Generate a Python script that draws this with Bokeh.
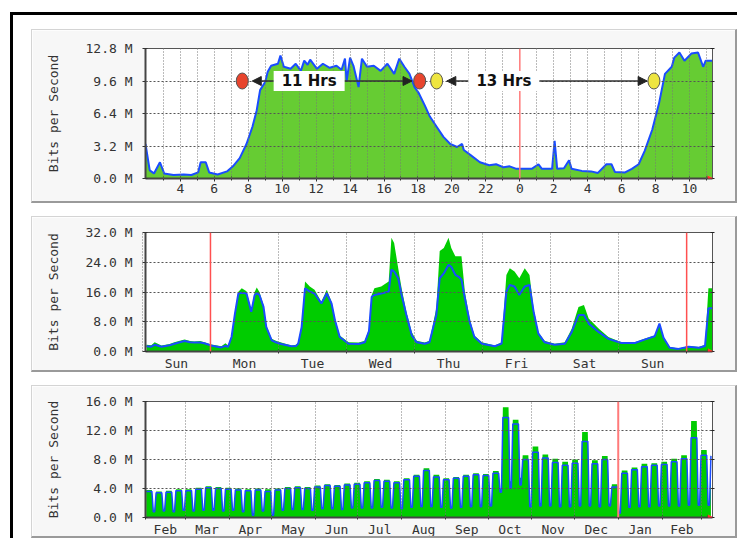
from bokeh.plotting import figure
from bokeh.layouts import column
from bokeh.models import FixedTicker, LinearAxis, Range1d, Span, Label, Arrow, NormalHead
from bokeh.embed import file_html
from bokeh.resources import INLINE

# ---------------- Daily graph (hours; 24 = midnight) ----------------
day_hours = [1.95, 2.2, 2.45, 2.8, 3.05, 3.6, 4.2, 4.65, 5.05, 5.2, 5.5, 5.7, 6.2, 6.75,
             7.1, 7.5, 7.9, 8.25, 8.5, 8.7, 9.0, 9.15, 9.35, 9.75, 9.9, 10.1, 10.5, 10.8,
             11.1, 11.3, 11.5, 11.65, 12.05, 12.4, 12.8, 13.2, 13.5, 13.7, 13.8, 14.0,
             14.2, 14.5, 14.7, 15.0, 15.4, 15.8, 16.2, 16.6, 16.9, 17.2, 17.5, 17.8,
             18.05, 18.4, 18.7, 19.1, 19.5, 19.9, 20.3, 20.6, 20.7, 21.1, 21.65, 22.2,
             22.6, 23.05, 23.4, 23.8, 24.4, 24.7, 25.1, 25.3, 25.9, 26.05, 26.2, 26.6,
             26.9, 27.05, 27.65, 28.2, 28.6, 29.1, 29.4, 29.6, 30.2, 30.6, 31.0, 31.35,
             31.8, 32.2, 32.55, 32.95, 33.1, 33.4, 33.7, 34.1, 34.5, 34.8, 34.95, 35.35]
day_in = [3.4, 0.8, 0.5, 1.6, 0.5, 0.35, 0.4, 0.35, 0.6, 1.6, 1.6, 0.6, 0.4, 0.7,
          1.2, 2.0, 3.4, 5.1, 6.7, 8.7, 9.5, 10.5, 11.1, 11.3, 12.1, 11.0, 10.8, 11.3,
          10.6, 11.6, 11.2, 11.7, 10.8, 11.3, 10.9, 11.1, 10.7, 11.8, 9.6, 11.9,
          11.1, 9.0, 11.8, 11.0, 11.1, 10.6, 11.3, 10.3, 11.8, 11.0, 10.3, 9.0,
          8.4, 7.2, 6.1, 5.1, 4.1, 3.4, 3.1, 3.4, 2.8, 2.3, 1.6, 1.3,
          1.4, 1.1, 1.2, 0.95, 0.95, 0.95, 1.4, 0.95, 0.95, 3.7, 0.95, 1.0,
          1.8, 0.95, 0.75, 0.7, 0.55, 1.4, 1.4, 0.65, 0.6, 0.95, 1.4, 2.7,
          4.8, 7.4, 10.3, 11.0, 11.9, 12.4, 11.6, 12.3, 12.4, 11.0, 11.6, 11.6]
day_out = day_in
day_range = (1.95, 35.35)
day_ticks = [4, 6, 8, 10, 12, 14, 16, 18, 20, 22, 24, 26, 28, 30, 32, 34]
day_tick_labels = ["4", "6", "8", "10", "12", "14", "16", "18", "20", "22",
                   "0", "2", "4", "6", "8", "10"]
day_hour_lines = [3, 4, 5, 6, 7, 8, 9, 10, 11, 12, 13, 14, 15, 16, 17, 18, 19, 20, 21,
                  22, 23, 25, 26, 27, 28, 29, 30, 31, 32, 33, 34, 35]
day_y_ticks = [0, 3.2, 6.4, 9.6, 12.8]
day_y_labels = ["0.0 M", "3.2 M", "6.4 M", "9.6 M", "12.8 M"]
day_midnight = 24
# annotation: markers, labels, arrows (hours, M)
marker_hours = [7.65, 18.1, 19.1, 31.9]
marker_level = [9.6, 9.6, 9.6, 9.6]
marker_colors = ["#e8452e", "#e8452e", "#eee540", "#eee540"]
span_labels = ["11 Hrs", "13 Hrs"]
span_label_hours = [11.59, 23.06]
span_arrows = [(9.53, 8.24), (13.65, 17.65), (21.0, 19.7), (25.1, 31.5)]

# ---------------- Weekly graph (days; 0 = Monday 00:00) ----------------
week_days = [-0.94, -0.87, -0.82, -0.72, -0.6, -0.53, -0.45, -0.38, -0.3, -0.24, -0.15,
             -0.09, 0.01, 0.1, 0.16, 0.22, 0.26, 0.31, 0.36, 0.41, 0.46, 0.53, 0.6,
             0.65, 0.68, 0.72, 0.78, 0.82, 0.9, 0.97, 1.04, 1.19, 1.26, 1.29, 1.34,
             1.39, 1.46, 1.53, 1.63, 1.71, 1.78, 1.83, 1.9, 2.03, 2.18, 2.27, 2.33,
             2.37, 2.41, 2.51, 2.62, 2.66, 2.7, 2.76, 2.81, 2.88, 2.96, 3.03, 3.15,
             3.22, 3.32, 3.37, 3.43, 3.5, 3.54, 3.6, 3.65, 3.69, 3.74, 3.81, 3.88,
             3.99, 4.18, 4.28, 4.35, 4.4, 4.47, 4.54, 4.62, 4.69, 4.75, 4.82, 4.91,
             5.06, 5.21, 5.31, 5.41, 5.49, 5.56, 5.71, 5.85, 6.04, 6.24, 6.38, 6.53,
             6.6, 6.66, 6.75, 6.88, 7.03, 7.18, 7.27, 7.32, 7.38]
week_in = [1.8, 1.7, 2.5, 1.6, 2.0, 2.5, 2.9, 3.2, 2.8, 2.7, 2.8,
           2.5, 1.9, 1.6, 1.4, 2.2, 1.6, 4.3, 10.7, 16.1, 17.0, 16.2, 11.1,
           16.0, 17.2, 16.0, 12.5, 7.0, 3.4, 2.8, 2.4, 1.6, 1.8, 2.5, 7.0,
           18.8, 17.5, 16.6, 13.4, 16.6, 13.4, 8.9, 4.3, 2.5, 2.4, 2.9, 6.0,
           15.2, 17.0, 17.5, 18.8, 30.6, 29.2, 22.4, 17.0, 10.7, 5.2, 2.9, 2.4,
           2.9, 11.6, 27.0, 27.8, 30.6, 27.8, 25.6, 25.6, 25.6, 16.1, 8.9, 4.3,
           2.5, 1.6, 2.5, 20.6, 22.4, 21.5, 19.7, 22.4, 20.6, 11.6, 5.2, 2.9,
           2.1, 2.5, 6.1, 12.0, 12.5, 8.9, 6.1, 3.9, 2.5, 2.5, 3.4, 4.3,
           7.5, 4.0, 1.2, 0.8, 1.5, 1.2, 1.8, 17.0, 17.0]
week_out = [1.4, 1.3, 1.8, 1.3, 1.7, 2.1, 2.5, 2.8, 2.5, 2.4, 2.4,
            2.2, 1.6, 1.3, 1.1, 1.5, 1.3, 3.9, 10.2, 15.6, 15.8, 15.6, 10.7,
            15.2, 15.6, 15.2, 12.0, 6.6, 3.0, 2.4, 2.0, 1.4, 1.5, 2.1, 6.5,
            17.0, 16.1, 15.6, 12.9, 15.6, 12.9, 8.4, 3.9, 2.1, 2.0, 2.5, 5.5,
            14.7, 15.2, 15.6, 16.1, 22.0, 21.5, 19.7, 15.2, 9.8, 4.3, 2.5, 2.1,
            2.5, 9.8, 19.7, 21.0, 23.3, 22.8, 20.6, 20.1, 19.3, 14.3, 8.0, 3.9,
            2.1, 1.4, 2.1, 16.1, 17.9, 17.5, 15.2, 17.5, 17.9, 10.7, 4.8, 2.5,
            1.8, 2.1, 5.2, 9.8, 9.8, 7.5, 5.2, 3.4, 2.3, 2.3, 3.2, 4.1,
            7.5, 3.7, 1.0, 0.7, 1.3, 1.0, 1.5, 11.6, 11.6]
week_range = (-0.955, 7.38)
week_day_names = ["Sun", "Mon", "Tue", "Wed", "Thu", "Fri", "Sat", "Sun"]
week_day_starts = [-1, 0, 1, 2, 3, 4, 5, 6, 7]
week_red_lines = [0, 7]
week_y_ticks = [0, 8, 16, 24, 32]
week_y_labels = ["0.0 M", "8.0 M", "16.0 M", "24.0 M", "32.0 M"]

# ---------------- Yearly graph (days from Feb 1; weekly peaks / weekend lows) ----------------
year_in_peak = [3.8, 3.6, 3.7, 3.9, 3.9, 4.1, 4.3, 4.2, 4.1, 4.0, 3.9, 4.0, 3.9,
                4.0, 4.2, 4.3, 4.2, 4.4, 4.6, 4.5, 4.7, 4.8, 5.0, 5.3, 5.2, 5.0,
                5.4, 5.9, 6.8, 5.9, 5.4, 5.6, 5.9, 6.1, 6.0, 6.4, 15.2, 13.5, 8.6,
                9.8, 8.7, 8.1, 7.7, 8.0, 11.8, 7.9, 8.5, 4.6, 6.5, 6.9, 7.4, 7.5,
                7.7, 8.1, 8.6, 13.3, 9.3, 9.0]
year_out_peak = [3.6, 3.4, 3.5, 3.7, 3.7, 3.9, 4.1, 4.0, 3.9, 3.8, 3.7, 3.8, 3.6,
                 3.8, 4.0, 4.1, 4.0, 4.2, 4.4, 4.3, 4.5, 4.6, 4.8, 5.1, 5.0, 4.8,
                 5.2, 5.7, 6.5, 5.6, 5.2, 5.4, 5.7, 5.9, 5.8, 6.1, 13.8, 12.9, 8.0,
                 9.0, 8.2, 7.6, 7.2, 7.5, 10.5, 7.4, 8.0, 4.2, 6.1, 6.6, 7.0, 7.2,
                 7.3, 7.7, 8.1, 11.0, 8.6, 8.5]
year_in_low = [1.0, 1.1, 1.0, 1.2, 1.1, 1.2, 1.3, 1.1, 1.2, 1.0, 0.6, 1.1, 0.5,
               1.2, 1.3, 1.3, 1.2, 1.4, 1.4, 1.3, 1.5, 1.5, 1.6, 1.6, 1.5, 1.4,
               1.6, 1.7, 1.8, 1.6, 1.5, 1.6, 1.7, 1.8, 1.8, 4.0, 5.0, 5.5, 1.8,
               2.0, 1.9, 1.8, 1.8, 1.9, 1.9, 1.8, 1.9, 0.8, 1.6, 1.7, 1.8, 1.8,
               1.9, 1.9, 2.0, 2.0, 2.0, 2.0]
year_out_low = [0.8, 0.9, 0.8, 1.0, 0.9, 1.0, 1.0, 0.9, 1.0, 0.8, 0.3, 0.9, 0.3,
                1.0, 1.1, 1.1, 1.0, 1.2, 1.2, 1.1, 1.3, 1.3, 1.3, 1.4, 1.3, 1.2,
                1.4, 1.5, 1.5, 1.4, 1.3, 1.4, 1.5, 1.5, 1.6, 3.5, 4.0, 4.5, 1.5,
                1.6, 1.6, 1.5, 1.5, 1.6, 1.6, 1.5, 1.6, 0.6, 1.4, 1.5, 1.5, 1.6,
                1.6, 1.6, 1.7, 1.7, 1.7, 1.7]
year_range = (0, 400.6)
year_month_starts = [0, 28, 59, 89, 120, 150, 181, 212, 242, 273, 303, 334, 365, 393]
year_month_names = ["Feb", "Mar", "Apr", "May", "Jun", "Jul", "Aug", "Sep", "Oct",
                    "Nov", "Dec", "Jan", "Feb"]
year_red_line = 334
year_y_ticks = [0, 4, 8, 12, 16]
year_y_labels = ["0.0 M", "4.0 M", "8.0 M", "12.0 M", "16.0 M"]

MONO = "DejaVu Sans Mono"
TXT = "#333333"
FIG_W = 706


def make_fig(xr, yr, h, top, bottom, y_ticks, y_labels):
    p = figure(width=FIG_W, height=h, x_range=Range1d(*xr), y_range=Range1d(*yr),
               output_backend="svg", toolbar_location=None,
               min_border_left=113, min_border_right=26,
               min_border_top=top, min_border_bottom=bottom,
               background_fill_color="white", border_fill_color="#f7f7f7")
    p.outline_line_color = "#555555"
    p.outline_line_width = 1
    yt = FixedTicker(ticks=y_ticks)
    ya = p.yaxis[0]
    ya.ticker = yt
    ya.major_label_overrides = {t: l for t, l in zip(y_ticks, y_labels)}
    ya.major_label_text_font = MONO
    ya.major_label_text_font_size = "13px"
    ya.major_label_text_color = TXT
    ya.major_label_standoff = 10
    ya.major_tick_in = 2
    ya.major_tick_out = 3
    ya.minor_tick_line_color = None
    ya.axis_line_width = 2
    ya.axis_line_color = "#444444"
    ya.major_tick_line_color = "#333333"
    ya.axis_label = "Bits per Second"
    ya.axis_label_text_font = MONO
    ya.axis_label_text_font_size = "13px"
    ya.axis_label_text_font_style = "normal"
    ya.axis_label_text_color = TXT
    ya.axis_label_standoff = 22
    ra = LinearAxis(ticker=FixedTicker(ticks=y_ticks), major_label_text_color=None,
                    major_tick_in=2, major_tick_out=2, minor_tick_line_color=None,
                    axis_line_color="#555555", major_tick_line_color="#222222")
    p.add_layout(ra, "right")
    xa = p.xaxis[0]
    xa.major_label_text_font = MONO
    xa.major_label_text_font_size = "13px"
    xa.major_label_text_color = TXT
    xa.axis_line_width = 2
    xa.axis_line_color = "#444444"
    xa.minor_tick_in = 2
    xa.minor_tick_out = 2
    xa.minor_tick_line_color = "#333333"
    p.ygrid.ticker = FixedTicker(ticks=y_ticks)
    p.ygrid.grid_line_color = "#555555"
    p.ygrid.grid_line_dash = "2 2"
    p.ygrid.level = "guide"
    p.xgrid.grid_line_color = "#777777"
    p.xgrid.grid_line_dash = "1 2"
    p.xgrid.level = "guide"
    p.styles = {"border-top": "1px solid #d4d4d4", "border-left": "1px solid #d4d4d4",
                "border-right": "2px solid #9a9a9a", "border-bottom": "2px solid #9a9a9a"}
    return p


def end_arrow(p, x_end):
    p.add_layout(Label(x=x_end, y=0, text="\u25b6", text_color="#ff3030",
                       text_font="DejaVu Sans", text_font_size="10px",
                       text_align="left", text_baseline="middle", x_offset=-5))


# ---- Panel 1: daily
p1 = make_fig(day_range, (0, 12.8), 174, 18, 26, day_y_ticks, day_y_labels)
p1.xaxis[0].ticker = FixedTicker(ticks=day_ticks,
                                 minor_ticks=[h for h in day_hour_lines if h % 2 == 1])
p1.xaxis[0].major_label_overrides = {t: l for t, l in zip(day_ticks, day_tick_labels)}
p1.xaxis[0].major_tick_in = 2
p1.xaxis[0].major_tick_out = 3
p1.xaxis[0].major_label_standoff = 2
p1.xaxis[0].major_tick_line_color = "#333333"
p1.xgrid.ticker = FixedTicker(ticks=day_hour_lines)
p1.varea(x=day_hours, y1=0, y2=day_in, fill_color="#66cc33")
p1.line(day_hours, day_out, line_color="#1a4cff", line_width=2)
p1.add_layout(Span(location=day_midnight, dimension="height", line_color="#ff7a7a",
                   line_width=1.5))
for xs, xe in span_arrows:
    p1.add_layout(Arrow(end=NormalHead(size=9, fill_color="#222222", line_color="#222222"),
                        x_start=xs, y_start=9.6, x_end=xe, y_end=9.6,
                        line_color="#333333", line_width=1.5))
for xh, txt in zip(span_label_hours, span_labels):
    p1.add_layout(Label(x=xh, y=9.6, text=txt, text_align="center", text_baseline="middle",
                        text_font="DejaVu Sans", text_font_style="bold",
                        text_font_size="15px", text_color="#111111",
                        background_fill_color="white",
                        padding=dict(left=8, right=8, top=1, bottom=1)))
er = p1.ellipse(x=marker_hours, y=marker_level, width=12, height=16,
                width_units="screen", height_units="screen",
                fill_color=marker_colors, line_color="#555555", line_width=1)
er.level = "overlay"
end_arrow(p1, day_range[1])

# ---- Panel 2: weekly
p2 = make_fig(week_range, (0, 32), 156, 15, 20, week_y_ticks, week_y_labels)
week_centers = [(a + b) / 2 for a, b in zip(week_day_starts[:-1], week_day_starts[1:])]
p2.xaxis[0].ticker = FixedTicker(ticks=week_centers, minor_ticks=week_day_starts)
p2.xaxis[0].major_label_overrides = {t: l for t, l in zip(week_centers, week_day_names)}
p2.xaxis[0].major_tick_in = 0
p2.xaxis[0].major_tick_out = 0
p2.xaxis[0].major_tick_line_color = None
p2.xaxis[0].major_label_standoff = 2
p2.xgrid.ticker = FixedTicker(ticks=[d for d in week_day_starts if d not in week_red_lines])
p2.varea(x=week_days, y1=0, y2=week_in, fill_color="#00cc00")
p2.line(week_days, week_out, line_color="#1a4cff", line_width=2)
for loc in week_red_lines:
    p2.add_layout(Span(location=loc, dimension="height", line_color="#ff5050",
                       line_width=1.5))
end_arrow(p2, week_range[1])

# ---- Panel 3: yearly
p3 = make_fig(year_range, (0, 16), 153, 15, 20, year_y_ticks, year_y_labels)
month_centers = [(a + b) / 2 for a, b in zip(year_month_starts[:-1], year_month_starts[1:])]
p3.xaxis[0].ticker = FixedTicker(ticks=month_centers, minor_ticks=year_month_starts)
p3.xaxis[0].major_label_overrides = {t: l for t, l in zip(month_centers, year_month_names)}
p3.xaxis[0].major_tick_in = 0
p3.xaxis[0].major_tick_out = 0
p3.xaxis[0].major_tick_line_color = None
p3.xaxis[0].major_label_standoff = 2
p3.xgrid.ticker = FixedTicker(ticks=[d for d in year_month_starts if d != year_red_line])
yx, yin, yout = [], [], []
for k in range(len(year_in_peak)):
    s = 7 * k
    for off, vi, vo in ((0.5, year_in_peak[k], year_out_peak[k]),
                        (4.5, year_in_peak[k], year_out_peak[k]),
                        (5.5, year_in_low[k], year_out_low[k]),
                        (6.5, year_in_low[k], year_out_low[k])):
        if s + off <= year_range[1]:
            yx.append(s + off)
            yin.append(vi)
            yout.append(vo)
p3.varea(x=yx, y1=0, y2=yin, fill_color="#00cc00")
p3.line(yx, yout, line_color="#1a4cff", line_width=1.5)
p3.add_layout(Span(location=year_red_line, dimension="height", line_color="#ff7a7a",
                   line_width=2))
end_arrow(p3, year_range[1])

page = column(p1, p2, p3, spacing=13, margin=(12, 0, 0, 10),
              styles={"border-left": "3px solid #000000", "border-top": "3px solid #000000",
                      "padding-left": "18px", "padding-top": "14px"})

open("out.html", "w").write(file_html(page, INLINE))
